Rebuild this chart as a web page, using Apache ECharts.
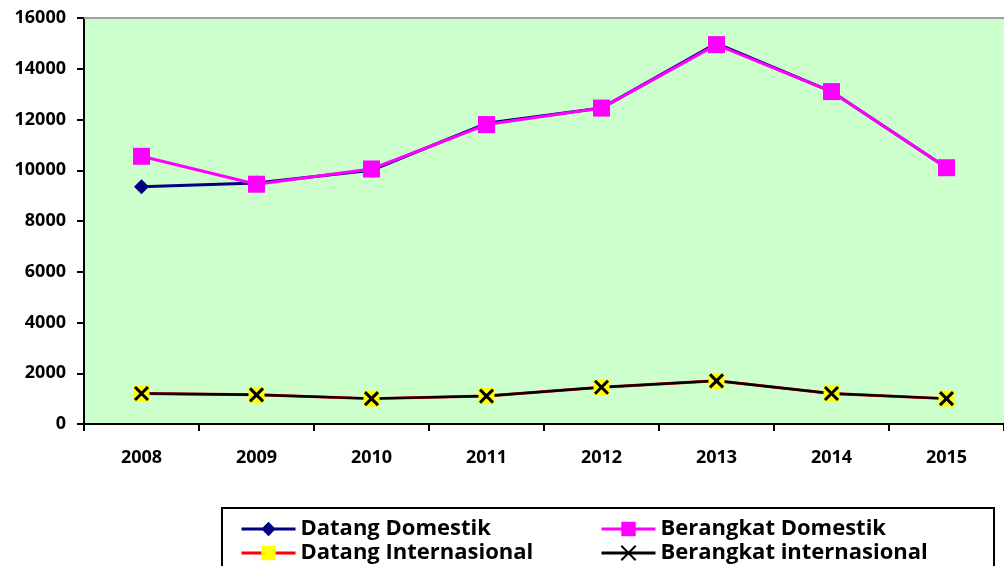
<!DOCTYPE html>
<html>
<head>
<meta charset="utf-8">
<script src="https://cdn.jsdelivr.net/npm/echarts@6/dist/echarts.min.js"></script>
<style>
  html, body { margin: 0; padding: 0; background: #fff; }
  #chart { width: 1004px; height: 566px; }
</style>
</head>
<body>
<div id="chart"></div>
<script>
const years = ['2008', '2009', '2010', '2011', '2012', '2013', '2014', '2015']
const datangDomestik = [9350, 9500, 10000, 11850, 12450, 15000, 13100, 10100]
const berangkatDomestik = [10550, 9450, 10050, 11800, 12450, 14950, 13100, 10100]
const datangInternasional = [1200, 1150, 1000, 1100, 1450, 1700, 1200, 1000]
const berangkatInternasional = [1200, 1150, 1000, 1100, 1450, 1700, 1200, 1000]

const font = '"Open Sans", "Liberation Sans", sans-serif'
const crossPath = 'path://M0,0L10,10M10,0L0,10'

const chart = echarts.init(document.getElementById('chart'))

const legendBase = {
  orient: 'vertical',
  top: 518,
  padding: 0,
  itemGap: 2,
  itemWidth: 54,
  itemHeight: 18,
  lineStyle: { width: 3 },
  textStyle: { fontFamily: font, fontWeight: 'bold', fontSize: 22, lineHeight: 20, color: '#000' },
  z: 5
}

chart.setOption({
  animation: false,
  grid: {
    left: 84,
    top: 18,
    width: 928,
    height: 406,
    show: true,
    backgroundColor: '#CCFFCC',
    borderWidth: 0
  },
  graphic: [
    // grey top edge of plot area
    { type: 'line', shape: { x1: 84, y1: 18, x2: 1004, y2: 18 }, style: { stroke: '#a0a0a0', lineWidth: 2 }, z: 10 },
    // legend frame
    { type: 'rect', shape: { x: 222, y: 508, width: 772, height: 70 }, style: { fill: '#fff', stroke: '#000', lineWidth: 2 }, z: 0 }
  ],
  legend: [
    Object.assign({}, legendBase, { left: 240, data: ['Datang Domestik', 'Datang Internasional'] }),
    Object.assign({}, legendBase, { left: 600, data: ['Berangkat Domestik', 'Berangkat internasional'] })
  ],
  xAxis: {
    type: 'category',
    data: years,
    boundaryGap: true,
    axisLine: { lineStyle: { color: '#000', width: 2 } },
    axisTick: { show: true, length: 7, lineStyle: { color: '#000', width: 2 } },
    axisLabel: { fontFamily: font, fontWeight: 'bold', fontSize: 18, color: '#000', margin: 25 },
    splitLine: { show: false }
  },
  yAxis: {
    type: 'value',
    min: 0,
    max: 16000,
    interval: 2000,
    axisLine: { show: true, lineStyle: { color: '#000', width: 2 } },
    axisTick: { show: true, length: 7, lineStyle: { color: '#000', width: 2 } },
    axisLabel: {
      fontFamily: font, fontWeight: 'bold', fontSize: 18, color: '#000', margin: 18,
      formatter: v => String(v)
    },
    splitLine: { show: false }
  },
  series: [
    {
      name: 'Datang Domestik',
      type: 'line',
      data: datangDomestik,
      symbol: 'diamond',
      symbolSize: 15,
      lineStyle: { color: '#000080', width: 3 },
      itemStyle: { color: '#000080' }
    },
    {
      name: 'Berangkat Domestik',
      type: 'line',
      data: berangkatDomestik,
      symbol: 'rect',
      symbolSize: 17,
      lineStyle: { color: '#FF00FF', width: 3 },
      itemStyle: { color: '#FF00FF' }
    },
    {
      name: 'Datang Internasional',
      type: 'line',
      data: datangInternasional,
      symbol: 'rect',
      symbolSize: 16,
      lineStyle: { color: '#FF0000', width: 3 },
      itemStyle: { color: '#FFFF00', borderColor: '#FF0000', borderWidth: 0 }
    },
    {
      name: 'Berangkat internasional',
      type: 'line',
      data: berangkatInternasional,
      symbol: crossPath,
      symbolSize: 13,
      lineStyle: { color: '#000', width: 2.5 },
      itemStyle: { color: 'none', borderColor: '#000', borderWidth: 3 }
    }
  ]
})
</script>
</body>
</html>
